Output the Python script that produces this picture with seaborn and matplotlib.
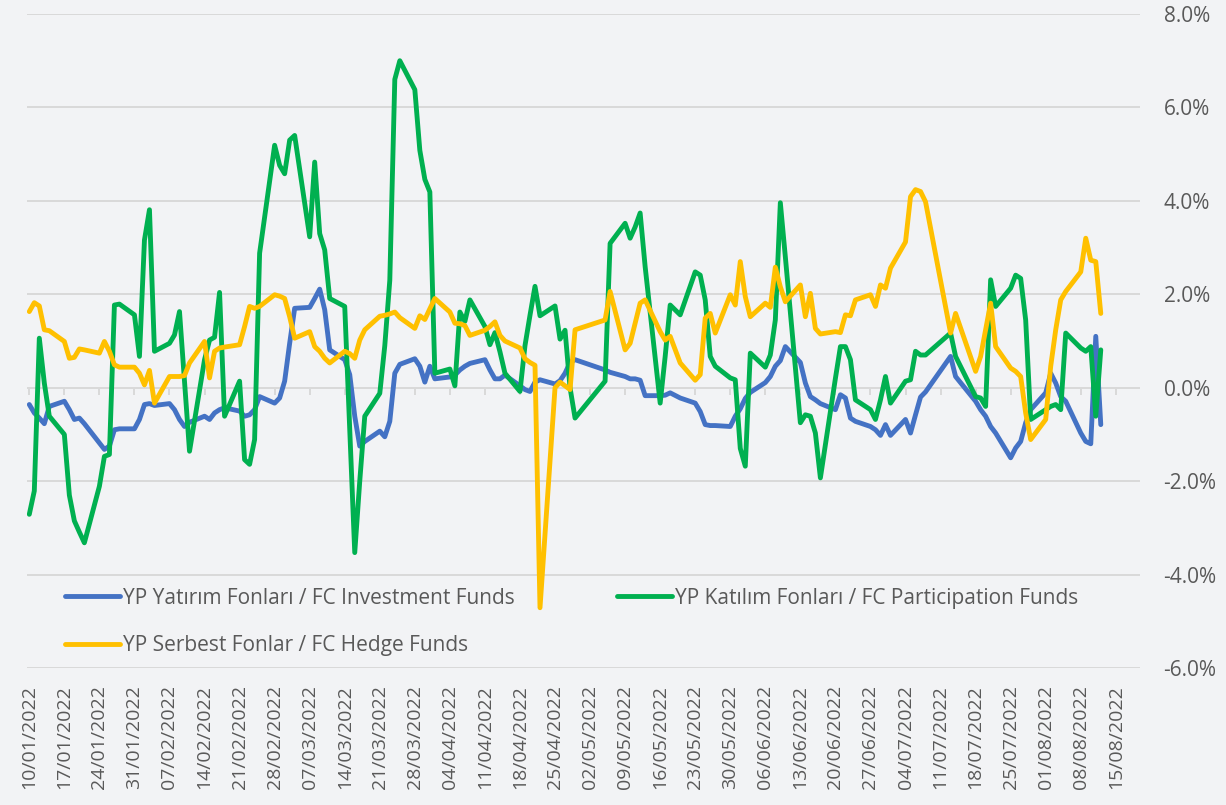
import numpy as np
import pandas as pd
import matplotlib
matplotlib.use("Agg")
import matplotlib.pyplot as plt
import matplotlib.dates as mdates
import seaborn as sns

# trading days shown (Turkish public holidays are skipped)
holidays = ["2022-05-02", "2022-05-03", "2022-05-04", "2022-05-19",
            "2022-07-11", "2022-07-12", "2022-07-15"]
dates = pd.bdate_range("2022-01-10", "2022-08-12", freq="C", holidays=holidays)

series_names = [
    "YP Yatırım Fonları / FC Investment Funds",
    "YP Katılım Fonları / FC Participation Funds",
    "YP Serbest Fonlar / FC Hedge Funds",
]
colors = ["#4472C4", "#00B050", "#FFC000"]

# values in %, one per trading day
investment = [
    -0.36, -0.54, -0.65, -0.77, -0.40, -0.29, -0.47, -0.68, -0.65, -0.77,
    -1.18, -1.32, -1.25, -0.90, -0.88, -0.88, -0.68, -0.36, -0.34, -0.38,
    -0.34, -0.47, -0.68, -0.83, -0.74, -0.61, -0.68, -0.54, -0.47, -0.43,
    -0.50, -0.61, -0.58, -0.47, -0.19, -0.33, -0.22, 0.14, 0.95, 1.70,
    1.72, 1.91, 2.11, 1.67, 0.81, 0.60, 0.28, -0.61, -1.25, -1.15,
    -0.93, -1.05, -0.72, 0.31, 0.50, 0.62, 0.46, 0.12, 0.46, 0.19,
    0.23, 0.27, 0.38, 0.46, 0.52, 0.60, 0.38, 0.19, 0.19, 0.27,
    0.04, -0.04, -0.08, 0.12, 0.17, 0.08, 0.15, 0.31, 0.54, 0.60,
    0.38, 0.33,
    0.24, 0.19, 0.19, 0.16, -0.17, -0.17, -0.16, -0.11, -0.22,
    -0.33, -0.51, -0.79, -0.81, -0.81, -0.83, -0.61, -0.45, -0.23, -0.10,
    0.11, 0.24, 0.46, 0.58, 0.88, 0.54, 0.10, -0.19, -0.26, -0.34,
    -0.47, -0.15, -0.22, -0.65, -0.72, -0.83, -0.90, -1.02, -0.79, -1.02,
    -0.68, -0.97, -0.58, -0.20, -0.09,
    0.67, 0.24,
    -0.29, -0.47, -0.61, -0.83, -0.97, -1.50, -1.29, -1.15, -0.75, -0.47,
    -0.11, 0.31, 0.10, -0.19, -0.29, -0.97, -1.15, -1.20, 1.10, -0.79,
]
participation = [
    -2.71, -2.21, 1.06, 0.10, -0.61, -1.00, -2.30, -2.85, -3.09, -3.32,
    -2.11, -1.47, -1.43, 1.77, 1.79, 1.56, 0.67, 3.16, 3.81, 0.78,
    0.95, 1.13, 1.63, 0.15, -1.36, 0.60, 1.02, 1.08, 2.04, -0.61,
    0.14, -1.54, -1.64, -1.11, 2.88, 5.19, 4.76, 4.58, 5.30, 5.40,
    3.23, 4.83, 3.30, 2.95, 1.91, 1.74, -0.90, -3.53, -2.00, -0.61,
    -0.12, 0.90, 2.30, 6.60, 7.00, 6.38, 5.08, 4.46, 4.19, 0.31,
    0.40, 0.04, 1.62, 1.42, 1.88, 1.31, 0.92, 1.18, 0.77, 0.31,
    -0.08, 0.90, 1.55, 2.17, 1.54, 1.75, 1.04, 1.23, 0.00, -0.65,
    0.14, 3.09,
    3.52, 3.20, 3.44, 3.74, 2.59, -0.33, 0.67, 1.77, 1.56,
    2.48, 2.41, 1.88, 0.67, 0.46, 0.21, 0.17, -1.30, -1.68, 0.74,
    0.44, 0.70, 1.45, 3.96, 2.80, -0.75, -0.58, -0.61, -0.97, -1.93,
    0.20, 0.88, 0.88, 0.60, -0.26, -0.47, -0.68, -0.26, 0.24, -0.33,
    0.14, 0.17, 0.78, 0.70, 0.70,
    1.17, 0.67,
    -0.19, -0.22, -0.40, 2.31, 1.74, 2.13, 2.41, 2.34, 1.45, -0.68,
    -0.47, -0.40, -0.36, -0.47, 1.17, 0.85, 0.78, 0.88, -0.61, 0.81,
]
hedge = [
    1.63, 1.82, 1.75, 1.24, 1.22, 0.99, 0.63, 0.65, 0.83, 0.81,
    0.74, 0.99, 0.78, 0.49, 0.44, 0.44, 0.31, 0.06, 0.37, -0.33,
    0.24, 0.24, 0.24, 0.26, 0.53, 0.99, 0.21, 0.78, 0.85, 0.87,
    0.92, 1.31, 1.74, 1.70, 1.74, 1.99, 1.96, 1.91, 1.52, 1.06,
    1.20, 0.88, 0.78, 0.63, 0.53, 0.78, 0.73, 0.63, 1.02, 1.24,
    1.53, 1.55, 1.58, 1.62, 1.50, 1.27, 1.54, 1.46, 1.69, 1.91,
    1.62, 1.38, 1.37, 1.33, 1.12, 1.23, 1.31, 1.41, 1.12, 1.00,
    0.85, 0.62, 0.54, 0.48, -4.71, 0.00, 0.12, 0.04, -0.04, 1.24,
    1.45, 2.06,
    0.81, 0.95, 1.38, 1.81, 1.88, 1.20, 1.02, 1.10, 0.53,
    0.16, 0.28, 1.49, 1.59, 1.17, 1.99, 1.77, 2.70, 1.95, 1.52,
    1.81, 1.72, 2.58, 2.16, 1.84, 2.20, 1.52, 2.02, 1.27, 1.15,
    1.20, 1.18, 1.56, 1.54, 1.88, 1.99, 1.74, 2.20, 2.13, 2.56,
    3.12, 4.09, 4.24, 4.20, 3.98,
    1.17, 1.59,
    0.35, 0.67, 1.24, 1.81, 0.88, 0.42, 0.35, 0.24, -0.54, -1.11,
    -0.68, 0.46, 1.24, 1.88, 2.06, 2.48, 3.20, 2.73, 2.70, 1.59,
]

y_ticks = np.arange(-6, 9, 2)
x_ticks = pd.date_range("2022-01-10", "2022-08-15", freq="7D")

df = pd.concat([
    pd.DataFrame({"date": dates, "value": vals, "series": name})
    for name, vals in zip(series_names, [investment, participation, hedge])
])

sns.set_style("white")
plt.rcParams["font.family"] = ["Open Sans", "DejaVu Sans"]
txt = "#595959"
bg = "#f2f3f5"

fig = plt.figure(figsize=(12.26, 8.05), dpi=100)
fig.patch.set_facecolor(bg)
ax = fig.add_axes([27 / 1226, 1 - 668 / 805, 1113 / 1226, 654 / 805])
ax.set_facecolor(bg)

sns.lineplot(data=df, x="date", y="value", hue="series", hue_order=series_names,
             palette=dict(zip(series_names, colors)), linewidth=3.5, ax=ax,
             solid_joinstyle="round", solid_capstyle="round")

ax.set_ylim(-6, 8)
ax.set_yticks(y_ticks)
ax.set_yticklabels([f"{v:.1f}%" for v in y_ticks])
ax.yaxis.tick_right()
ax.set_xlim(pd.Timestamp("2022-01-09 13:00"), pd.Timestamp("2022-08-19 20:00"))
ax.set_xticks(x_ticks)
ax.xaxis.set_major_formatter(mdates.DateFormatter("%d/%m/%Y"))
ax.tick_params(axis="y", length=0, pad=17, labelsize=15, labelcolor=txt)
ax.tick_params(axis="x", length=0, pad=12, labelsize=14, labelcolor=txt,
               labelrotation=90)
ax.set_xlabel("")
ax.set_ylabel("")
for s in ax.spines.values():
    s.set_visible(False)
ax.grid(axis="y", color="#d9d9d9", linewidth=1.4)
ax.set_axisbelow(True)

# small tick marks hanging from the 0% line
zero = ax.secondary_xaxis(6 / 14)
zero.set_xticks(x_ticks)
zero.tick_params(axis="x", length=5, width=1.4, color="#d9d9d9", labelbottom=False)
zero.spines["bottom"].set_visible(False)

handles, labels = ax.get_legend_handles_labels()
ax.get_legend().remove()
order = [0, 2, 1]
leg = ax.legend([handles[i] for i in order], [labels[i] for i in order],
                ncol=2, loc="upper left", bbox_to_anchor=(0.034, 0.123),
                frameon=False, fontsize=15, handlelength=2.65,
                handletextpad=0.15, columnspacing=4.9, labelspacing=1.26,
                borderpad=0, borderaxespad=0)
for t in leg.get_texts():
    t.set_color(txt)

fig.savefig("out.png", dpi=100, facecolor=bg)
